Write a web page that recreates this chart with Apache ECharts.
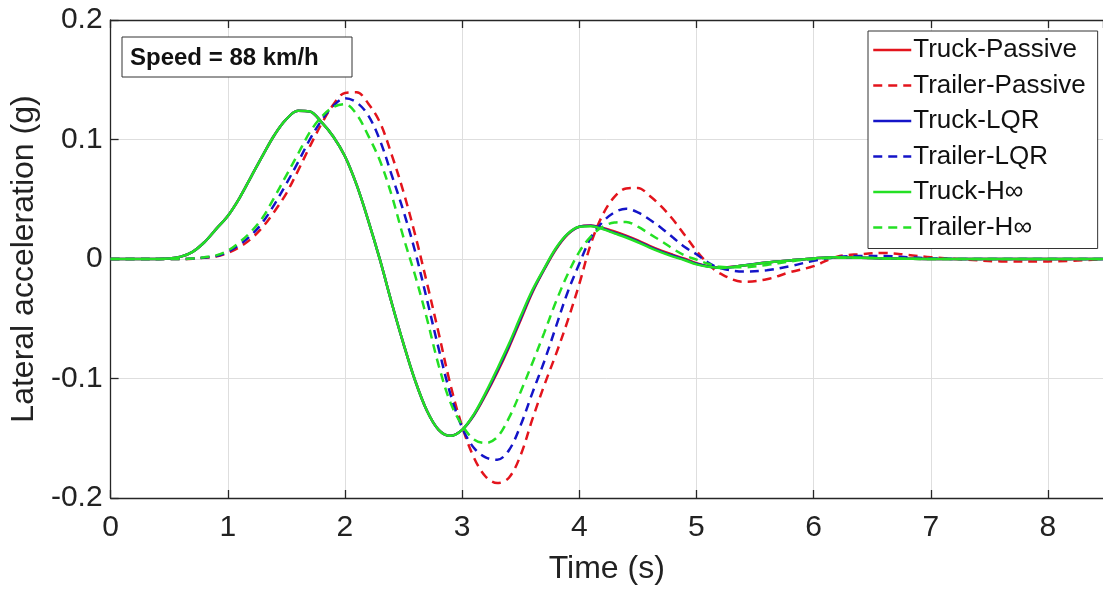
<!DOCTYPE html>
<html>
<head>
<meta charset="utf-8">
<title>Lateral acceleration</title>
<script src="https://cdn.jsdelivr.net/npm/echarts@6/dist/echarts.min.js"></script>
<style>
    html, body { margin: 0; padding: 0; background: #fff; }
    #chart { width: 1103px; height: 590px; }
</style>
</head>
<body>
<div id="chart"></div>
<script>
// time axis (s), shared by all series
const time = [0, 0.3, 0.5, 0.6, 0.7, 0.8, 0.9,
    1.0, 1.1, 1.2, 1.3, 1.4, 1.5, 1.6, 1.7, 1.8, 1.9,
    2.0, 2.1, 2.2, 2.3, 2.4, 2.5, 2.6, 2.7, 2.8, 2.9,
    3.0, 3.1, 3.2, 3.3, 3.4, 3.5, 3.6, 3.7, 3.8, 3.9,
    4.0, 4.1, 4.2, 4.3, 4.4, 4.5, 4.6, 4.7, 4.8, 4.9,
    5.0, 5.1, 5.2, 5.4, 5.6, 5.8,
    6.0, 6.2, 6.4, 6.6, 6.8,
    7.0, 7.3, 7.6, 8.0, 8.5]

// lateral acceleration (g)
const truckPassive = [0, 0, 0.0005, 0.002, 0.006, 0.014, 0.025,
    0.036, 0.051, 0.069, 0.087, 0.104, 0.117, 0.124, 0.1235, 0.1145, 0.1025,
    0.086, 0.062, 0.032, -0.001, -0.037, -0.071, -0.102, -0.127, -0.143, -0.148,
    -0.143, -0.131, -0.114, -0.095, -0.074, -0.051, -0.028, -0.009, 0.008, 0.0205,
    0.027, 0.028, 0.026, 0.023, 0.0195, 0.0155, 0.011, 0.007, 0.0035, 0.0002,
    -0.0035, -0.006, -0.0072, -0.0055, -0.003, -0.0012,
    0.0005, 0.0015, 0.001, 0.0005, 0.0002,
    0, 0, 0, 0, 0]
const trailerPassive = [0, 0, 0, 0, 0.0003, 0.001, 0.002,
    0.005, 0.01, 0.017, 0.027, 0.04, 0.055, 0.074, 0.094, 0.113, 0.129,
    0.139, 0.1395, 0.13, 0.114, 0.087, 0.056, 0.02, -0.02, -0.062, -0.105,
    -0.14, -0.166, -0.182, -0.1875, -0.183, -0.164, -0.134, -0.106, -0.08, -0.052,
    -0.021, 0.013, 0.037, 0.052, 0.059, 0.0595, 0.053, 0.044, 0.033, 0.02,
    0.007, -0.004, -0.012, -0.019, -0.017, -0.011,
    -0.006, 0.002, 0.004, 0.005, 0.0035,
    0.0015, -0.0005, -0.002, -0.002, 0]
const truckLQR = [0, 0, 0.0005, 0.002, 0.006, 0.014, 0.025,
    0.036, 0.051, 0.069, 0.087, 0.104, 0.117, 0.124, 0.1235, 0.1145, 0.1025,
    0.086, 0.062, 0.032, -0.001, -0.037, -0.071, -0.102, -0.127, -0.143, -0.148,
    -0.143, -0.1305, -0.113, -0.0935, -0.0725, -0.0495, -0.027, -0.0085, 0.0085, 0.0208,
    0.027, 0.0278, 0.0255, 0.022, 0.0187, 0.0147, 0.0102, 0.0062, 0.0027, -0.0005,
    -0.004, -0.0063, -0.0074, -0.0055, -0.003, -0.0012,
    0.0005, 0.0015, 0.001, 0.0005, 0.0002,
    0, 0, 0, 0, 0]
const trailerLQR = [0, 0, 0, 0, 0.0004, 0.0012, 0.0025,
    0.006, 0.012, 0.02, 0.031, 0.046, 0.063, 0.081, 0.1, 0.116, 0.128,
    0.1345, 0.131, 0.12, 0.099, 0.07, 0.04, 0.006, -0.034, -0.075, -0.113,
    -0.141, -0.158, -0.166, -0.168, -0.16, -0.139, -0.112, -0.086, -0.057, -0.028,
    -0.004, 0.018, 0.031, 0.039, 0.042, 0.039, 0.033, 0.026, 0.018, 0.01,
    0.004, -0.003, -0.0075, -0.0105, -0.0095, -0.006,
    -0.0015, 0.0015, 0.0025, 0.0025, 0.0015,
    0.0005, 0, 0, 0, 0]
const truckHinf = [0, 0, 0.0005, 0.002, 0.006, 0.014, 0.025,
    0.036, 0.051, 0.069, 0.087, 0.104, 0.117, 0.124, 0.1235, 0.1145, 0.1025,
    0.086, 0.062, 0.032, -0.001, -0.037, -0.071, -0.102, -0.127, -0.143, -0.148,
    -0.143, -0.13, -0.112, -0.092, -0.071, -0.048, -0.026, -0.008, 0.009, 0.021,
    0.027, 0.0275, 0.025, 0.0215, 0.018, 0.014, 0.0095, 0.0055, 0.002, -0.001,
    -0.0045, -0.0065, -0.0075, -0.0055, -0.003, -0.0012,
    0.0005, 0.0015, 0.001, 0.0005, 0.0002,
    0, 0, 0, 0, 0]
const trailerHinf = [0, 0, 0, 0, 0.0005, 0.0015, 0.003,
    0.007, 0.014, 0.023, 0.035, 0.052, 0.07, 0.088, 0.106, 0.119, 0.127,
    0.1295, 0.121, 0.103, 0.082, 0.053, 0.018, -0.014, -0.05, -0.089, -0.12,
    -0.139, -0.151, -0.154, -0.149, -0.133, -0.111, -0.087, -0.062, -0.036, -0.013,
    0.006, 0.019, 0.027, 0.0305, 0.031, 0.027, 0.021, 0.015, 0.0085, 0.003,
    -0.0005, -0.004, -0.0065, -0.007, -0.005, -0.002,
    0, 0.001, 0.001, 0.0005, 0.0002,
    0, 0, 0, 0, 0]

const yTicks = [-0.2, -0.1, 0, 0.1, 0.2]
const xTicks = [0, 1, 2, 3, 4, 5, 6, 7, 8]

const RED = '#e3141c'
const BLUE = '#1414c8'
const GREEN = '#24e024'
const FONT = "'Liberation Sans', Arial, sans-serif"

const chart = echarts.init(document.getElementById('chart'))

function pairs(values) {
    return time.map((t, i) => [t, values[i]])
}

function makeSeries(name, values, color, dashed) {
    return {
        name: name,
        type: 'line',
        data: pairs(values),
        smooth: 0.35,
        showSymbol: false,
        symbol: 'none',
        clip: true,
        lineStyle: {
            color: color,
            width: 2.5,
            type: dashed ? [9, 6] : 'solid'
        },
        itemStyle: { color: color }
    }
}

const axisLineStyle = { color: '#262626', width: 1.3 }

chart.setOption({
    backgroundColor: '#fff',
    animation: false,
    grid: { left: 110, right: 0, top: 20, bottom: 90 },
    legend: {
        orient: 'vertical',
        left: 868,
        top: 31,
        padding: [4, 12, 6, 4],
        itemGap: 5.5,
        itemWidth: 38,
        itemHeight: 14,
        backgroundColor: '#fff',
        borderColor: '#333',
        borderWidth: 1,
        borderRadius: 0,
        itemStyle: { opacity: 0 },
        lineStyle: { width: 2.5 },
        textStyle: { fontFamily: FONT, fontSize: 26, color: '#111', lineHeight: 30, padding: [0, 0, 0, -3] }
    },
    graphic: [
        {
            type: 'rect',
            shape: { x: 122, y: 37, width: 230, height: 40 },
            style: { fill: '#fff', stroke: '#333', lineWidth: 1 },
            z: 10
        },
        {
            type: 'text',
            x: 130,
            y: 58,
            style: {
                text: 'Speed = 88 km/h',
                fontFamily: FONT,
                fontSize: 24,
                fontWeight: 'bold',
                fill: '#111',
                verticalAlign: 'middle'
            },
            z: 11
        }
    ],
    xAxis: [
        {
            type: 'value',
            min: xTicks[0],
            max: 8.47,
            interval: 1,
            name: 'Time (s)',
            nameLocation: 'middle',
            nameGap: 55,
            nameTextStyle: { fontFamily: FONT, fontSize: 32, color: '#222' },
            axisLine: { show: true, onZero: false, lineStyle: axisLineStyle },
            axisTick: { show: true, inside: true, length: 8, lineStyle: axisLineStyle },
            axisLabel: {
                fontFamily: FONT, fontSize: 30, color: '#222', margin: 15,
                showMaxLabel: false
            },
            splitLine: { show: true, lineStyle: { color: '#dedede', width: 1 } }
        },
        {
            type: 'value',
            position: 'top',
            min: xTicks[0],
            max: 8.47,
            interval: 1,
            axisLine: { show: true, onZero: false, lineStyle: axisLineStyle },
            axisTick: { show: true, inside: true, length: 8, lineStyle: axisLineStyle },
            axisLabel: { show: false },
            splitLine: { show: false }
        }
    ],
    yAxis: {
        type: 'value',
        min: yTicks[0],
        max: yTicks[yTicks.length - 1],
        interval: 0.1,
        name: 'Lateral acceleration (g)',
        nameLocation: 'middle',
        nameGap: 60,
        nameTextStyle: { fontFamily: FONT, fontSize: 32, color: '#222' },
        axisLine: { show: true, onZero: false, lineStyle: axisLineStyle },
        axisTick: { show: true, inside: true, length: 8, lineStyle: axisLineStyle },
        axisLabel: {
            fontFamily: FONT, fontSize: 30, color: '#222', margin: 8,
            formatter: (v) => (Math.abs(v) < 1e-9 ? '0' : String(+v.toFixed(1)))
        },
        splitLine: { show: true, lineStyle: { color: '#dedede', width: 1 } }
    },
    series: [
        makeSeries('Truck-Passive', truckPassive, RED, false),
        makeSeries('Trailer-Passive', trailerPassive, RED, true),
        makeSeries('Truck-LQR', truckLQR, BLUE, false),
        makeSeries('Trailer-LQR', trailerLQR, BLUE, true),
        makeSeries('Truck-H∞', truckHinf, GREEN, false),
        makeSeries('Trailer-H∞', trailerHinf, GREEN, true)
    ]
})
</script>
</body>
</html>
